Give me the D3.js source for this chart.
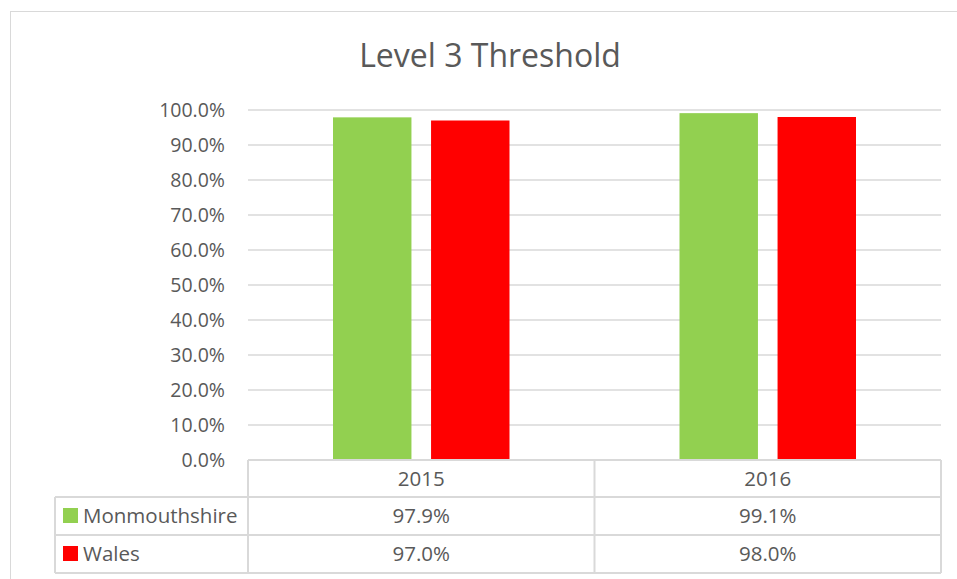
<!DOCTYPE html>
<html>
<head>
<meta charset="utf-8">
<script src="https://cdn.jsdelivr.net/npm/d3@7"></script>
<style>
  body { margin: 0; background: #fff; }
  text { font-family: "Open Sans", "Noto Sans", sans-serif; fill: #595959; }
</style>
</head>
<body>
<script>
// chart data
const years = ["2015", "2016"];
const seriesNames = ["Monmouthshire", "Wales"];
const monmouthshire = [97.9, 99.1];
const wales = [97.0, 98.0];
const yTicks = [0, 10, 20, 30, 40, 50, 60, 70, 80, 90, 100];

const colors = ["#92d050", "#ff0000"];
const series = [monmouthshire, wales];

var svg = d3.select("body").append("svg").attr("width", 957).attr("height", 579);

// outer chart frame
svg.append("rect")
    .attr("x", 10.5).attr("y", 11.5)
    .attr("width", 1000).attr("height", 1000)
    .attr("fill", "none").attr("stroke", "#d9d9d9").attr("stroke-width", 1);

svg.append("text")
    .attr("x", 490).attr("y", 67)
    .attr("text-anchor", "middle")
    .attr("font-size", 32)
    .text("Level 3 Threshold");

let x = d3.scaleBand().domain(years).range([248, 941]);
let y = d3.scaleLinear().domain([0, 100]).range([460, 110]);
let xs = d3.scaleBand().domain([0, 1]).range([85, x.bandwidth() - 85]).paddingInner(0.2);

// gridlines
svg.selectAll("line.grid")
    .data(yTicks)
    .enter()
    .append("line")
    .attr("class", "grid")
    .attr("x1", 248).attr("x2", 941)
    .attr("y1", d => y(d)).attr("y2", d => y(d))
    .attr("stroke", "#d9d9d9").attr("stroke-width", 1.5);

// y axis labels
svg.selectAll("text.ytick")
    .data(yTicks)
    .enter()
    .append("text")
    .attr("class", "ytick")
    .attr("x", 225)
    .attr("y", d => y(d) + 7)
    .attr("text-anchor", "end")
    .attr("font-size", 19.5)
    .text(d => d.toFixed(1) + "%");

// bars
series.forEach(function(vals, si){
    svg.selectAll("rect.bar" + si)
    .data(vals)
    .enter()
    .append("rect")
    .attr("class", "bar" + si)
    .attr("x", (d, i) => x(years[i]) + xs(si))
    .attr("width", xs.bandwidth())
    .attr("y", d => y(d))
    .attr("height", d => y(0) - y(d))
    .attr("fill", colors[si]);
});

// data table
const rowY = [460, 497, 535, 573];
const tableStroke = "#d9d9d9";
let tg = svg.append("g").attr("stroke", tableStroke).attr("stroke-width", 2);
// horizontal lines
tg.append("line").attr("x1", 248).attr("x2", 941).attr("y1", rowY[0]).attr("y2", rowY[0]);
for (let r = 1; r < rowY.length; r++) {
    tg.append("line").attr("x1", 55).attr("x2", 941).attr("y1", rowY[r]).attr("y2", rowY[r]);
}
// vertical lines
tg.append("line").attr("x1", 55).attr("x2", 55).attr("y1", rowY[1]).attr("y2", rowY[3]);
[248, x("2016"), 941].forEach(function(vx){
    tg.append("line").attr("x1", vx).attr("x2", vx).attr("y1", rowY[0]).attr("y2", rowY[3]);
});

// header years
svg.selectAll("text.year")
    .data(years)
    .enter()
    .append("text")
    .attr("class", "year")
    .attr("x", d => x(d) + x.bandwidth() / 2)
    .attr("y", (rowY[0] + rowY[1]) / 2 + 7)
    .attr("text-anchor", "middle")
    .attr("font-size", 20.5)
    .text(d => d);

// series rows
series.forEach(function(vals, si){
    let cy = (rowY[si + 1] + rowY[si + 2]) / 2;
    svg.append("rect")
        .attr("x", 63).attr("y", cy - 8)
        .attr("width", 15).attr("height", 15)
        .attr("fill", colors[si]);
    svg.append("text")
        .attr("x", 83).attr("y", cy + 7)
        .attr("font-size", 20.5)
        .text(seriesNames[si]);
    svg.selectAll("text.val" + si)
        .data(vals)
        .enter()
        .append("text")
        .attr("class", "val" + si)
        .attr("x", (d, i) => x(years[i]) + x.bandwidth() / 2)
        .attr("y", cy + 7)
        .attr("text-anchor", "middle")
        .attr("font-size", 20.5)
        .text(d => d.toFixed(1) + "%");
});
</script>
</body>
</html>
